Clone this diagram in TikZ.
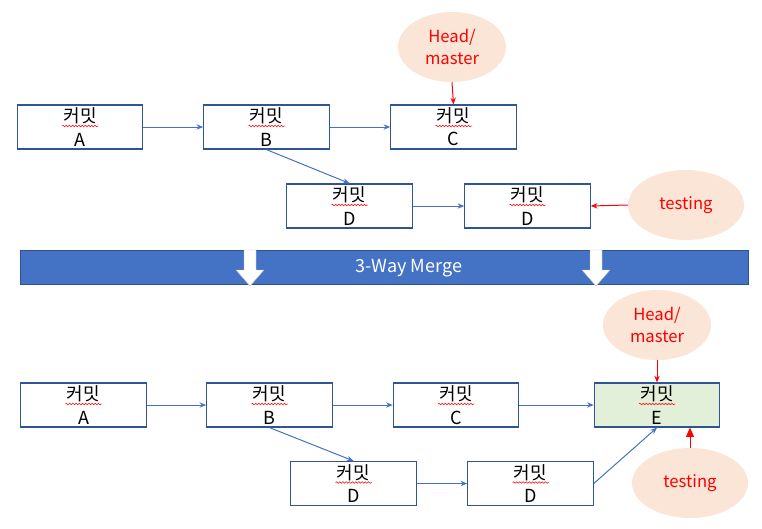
\documentclass[tikz,border=0pt]{standalone}
\usepackage{fontspec}
\setmainfont{Noto Sans CJK KR}
\usetikzlibrary{arrows.meta,calc,shapes.geometric,decorations.pathmorphing}
\definecolor{boxline}{RGB}{47,85,151}
\definecolor{linkblue}{RGB}{68,114,196}
\definecolor{bannerline}{RGB}{47,82,143}
\definecolor{peach}{RGB}{251,229,214}
\definecolor{mergegreen}{RGB}{226,240,217}
\tikzset{
	commit/.style={draw=boxline, line width=0.9pt, minimum width=94pt, minimum height=33pt, inner sep=0pt, align=center, font=\fontsize{13.5}{17.5}\selectfont},
	pointer/.style={ellipse, fill=peach, text=red, minimum height=52.5pt, inner sep=0pt, align=center, font=\fontsize{12.5}{16}\selectfont},
	link/.style={draw=linkblue, line width=0.75pt, -{Stealth[length=5pt,width=4pt]}},
	redlink/.style={draw=red, line width=0.75pt, -{Stealth[length=5pt,width=4pt]}},
	squiggle/.style={red, line width=0.4pt, decorate, decoration={snake, amplitude=0.6pt, segment length=2.4pt}}
}
\begin{document}
\begin{tikzpicture}[x=0.75pt, y=-0.75pt]
		%%%%% START %%%%%
		\useasboundingbox (0, 0) rectangle (762, 528);
		
		% before the merge
		\node[commit] (tA) at (80, 127) {커밋\\A};
		\node[commit] (tB) at (266.5, 127) {커밋\\B};
		\node[commit] (tC) at (453.5, 127) {커밋\\C};
		\node[commit] (tD1) at (349.5, 206) {커밋\\D};
		\node[commit] (tD2) at (527.5, 206) {커밋\\D};
		
		\node[pointer, minimum width=81pt] (tHead) at (452, 47) {Head/\\master};
		\node[pointer, minimum width=87pt] (tTest) at (686, 205) {testing};
		
		\draw[link] (tA) -- (tB);
		\draw[link] (tB) -- (tC);
		\draw[link] (tB.south) -- (tD1.north);
		\draw[link] (tD1) -- (tD2);
		\draw[redlink] (tHead.south) -- (tC.north);
		\draw[redlink] (tTest.west) -- (tD2.east);
		
		% banner
		\node[fill=linkblue, draw=bannerline, line width=0.6pt, minimum width=546pt, minimum height=26pt, inner sep=0pt] (banner) at (384, 267.5) {};
		\foreach \x in {250, 596}
			\draw[fill=white, draw=gray!50, line width=0.3pt] (\x-6, 250) -- (\x+6, 250) -- (\x+6, 270) -- (\x+14, 270) -- (\x, 286) -- (\x-14, 270) -- (\x-6, 270) -- cycle;
		\node[text=white, font=\fontsize{13.5}{16}\selectfont] (mergetext) at (409, 268) {3-Way Merge};
		
		% after the merge
		\node[commit] (bA) at (83.5, 405) {커밋\\A};
		\node[commit] (bB) at (269.5, 405) {커밋\\B};
		\node[commit] (bC) at (456, 405) {커밋\\C};
		\node[commit, fill=mergegreen] (bE) at (657, 405) {커밋\\E};
		\node[commit] (bD1) at (353.5, 483.5) {커밋\\D};
		\node[commit] (bD2) at (530.5, 483.5) {커밋\\D};
		
		\node[pointer, minimum width=81pt] (bHead) at (657, 325) {Head/\\master};
		\node[pointer, minimum width=87pt] (bTest) at (690, 483) {testing};
		
		\draw[link] (bA) -- (bB);
		\draw[link] (bB) -- (bC);
		\draw[link] (bC) -- (bE);
		\draw[link] (bB.south) -- (bD1.north);
		\draw[link] (bD1) -- (bD2);
		\draw[link] (bD2.east) -- (bE.south);
		\draw[redlink] (bHead.south) -- (bE.north);
		\draw[draw=red, line width=0.75pt, -{Triangle[length=7pt,width=6pt]}] (bTest.north) -- (bTest.north |- bE.south);
		
		% spell-check marks
		\foreach \c in {tA, tB, tC, tD1, tD2, bA, bB, bC, bE, bD1, bD2}
			\draw[squiggle] ($(\c.center)+(-18, -1)$) -- ++(36, 0);
		
		%%%%% END %%%%%
	\end{tikzpicture}
\end{document}
